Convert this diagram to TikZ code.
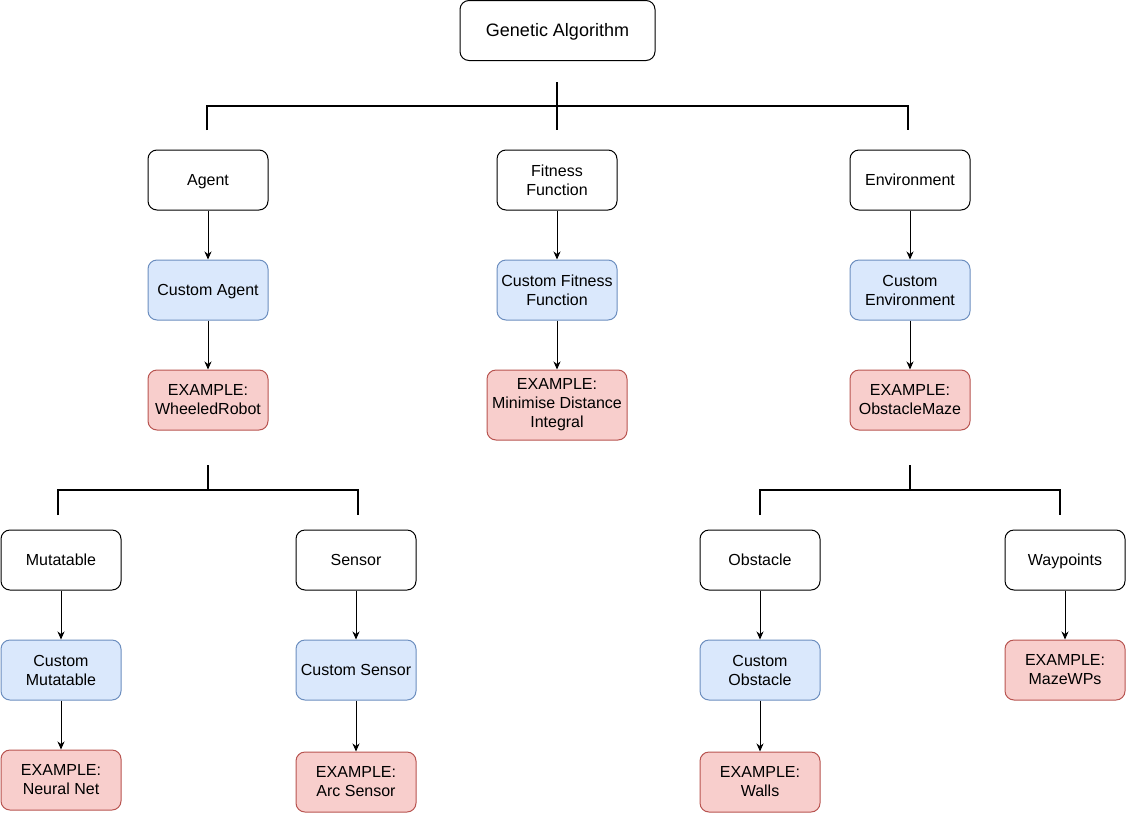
\documentclass[tikz,border=0pt]{standalone}
\usepackage{fontspec}
\setmainfont{Liberation Sans}
\usetikzlibrary{arrows.meta}
\definecolor{bluefill}{HTML}{DAE8FC}
\definecolor{bluedraw}{HTML}{6C8EBF}
\definecolor{redfill}{HTML}{F8CECC}
\definecolor{reddraw}{HTML}{B85450}
\tikzset{
  box/.style={draw=black, fill=white, rounded corners=9pt, minimum width=120pt, minimum height=60pt,
    align=center, inner sep=0pt, line width=1pt, font=\fontsize{16}{19}\selectfont},
  custombox/.style={box, draw=bluedraw, fill=bluefill},
  examplebox/.style={box, draw=reddraw, fill=redfill},
  oneline/.style={text height=11.5pt, text depth=0pt},
  arr/.style={line width=1pt, -{Stealth[length=8pt,width=7pt,inset=2.5pt]}},
  bracket/.style={line width=2pt, line join=miter}
}
\begin{document}
\begin{tikzpicture}[x=1pt,y=-1pt]
\useasboundingbox (0,0) rectangle (1126,814);
% top
\node[box, minimum width=195pt, font=\fontsize{18}{21}\selectfont, text height=12.9pt, text depth=0pt] (ga) at (557.5,30.5) {Genetic Algorithm};
% level 1
\node[box, oneline] (agent) at (208,180) {Agent};
\node[box] (fit) at (557,180) {Fitness\\Function};
\node[box, oneline] (env) at (910,180) {Environment};
% level 2
\node[custombox, oneline] (cagent) at (208,290) {Custom Agent};
\node[custombox] (cfit) at (557,290) {Custom Fitness\\Function};
\node[custombox] (cenv) at (910,290) {Custom\\Environment};
% level 3
\node[examplebox] (eagent) at (208,400) {EXAMPLE:\\WheeledRobot};
\node[examplebox, minimum width=140pt, minimum height=70pt] (efit) at (557,405) {EXAMPLE:\\Minimise Distance\\Integral};
\node[examplebox] (eenv) at (910,400) {EXAMPLE:\\ObstacleMaze};
% level 4
\node[box, oneline] (mut) at (61,560) {Mutatable};
\node[box, oneline] (sens) at (356,560) {Sensor};
\node[box, oneline] (obs) at (760,560) {Obstacle};
\node[box, oneline] (wp) at (1065,560) {Waypoints};
% level 5
\node[custombox] (cmut) at (61,670) {Custom\\Mutatable};
\node[custombox, oneline] (csens) at (356,670) {Custom Sensor};
\node[custombox] (cobs) at (760,670) {Custom\\Obstacle};
\node[examplebox] (ewp) at (1065,670) {EXAMPLE:\\MazeWPs};
% level 6
\node[examplebox] (emut) at (61,780) {EXAMPLE:\\Neural Net};
\node[examplebox] (esens) at (356,782) {EXAMPLE:\\Arc Sensor};
\node[examplebox] (eobs) at (760,782) {EXAMPLE:\\Walls};

% arrows
\draw[arr] (agent) -- (cagent);
\draw[arr] (cagent) -- (eagent);
\draw[arr] (fit) -- (cfit);
\draw[arr] (cfit) -- (efit);
\draw[arr] (env) -- (cenv);
\draw[arr] (cenv) -- (eenv);
\draw[arr] (mut) -- (cmut);
\draw[arr] (cmut) -- (emut);
\draw[arr] (sens) -- (csens);
\draw[arr] (csens) -- (esens);
\draw[arr] (obs) -- (cobs);
\draw[arr] (cobs) -- (eobs);
\draw[arr] (wp) -- (ewp);

% brackets
\coordinate (t0) at (557,82);
\coordinate (t1) at (557,130);
\coordinate (tl) at (207,130);
\coordinate (tr) at (908,130);
\draw[bracket] (tl) -- (207,106) -- (908,106) -- (tr);
\draw[bracket] (t0) -- (t1);

\coordinate (a0) at (208,465);
\coordinate (al) at (58,515);
\coordinate (ar) at (358,515);
\draw[bracket] (a0) -- (208,490);
\draw[bracket] (al) -- (58,490) -- (358,490) -- (ar);

\coordinate (e0) at (910,465);
\coordinate (el) at (760,515);
\coordinate (er) at (1060,515);
\draw[bracket] (e0) -- (910,490);
\draw[bracket] (el) -- (760,490) -- (1060,490) -- (er);
\end{tikzpicture}
\end{document}
